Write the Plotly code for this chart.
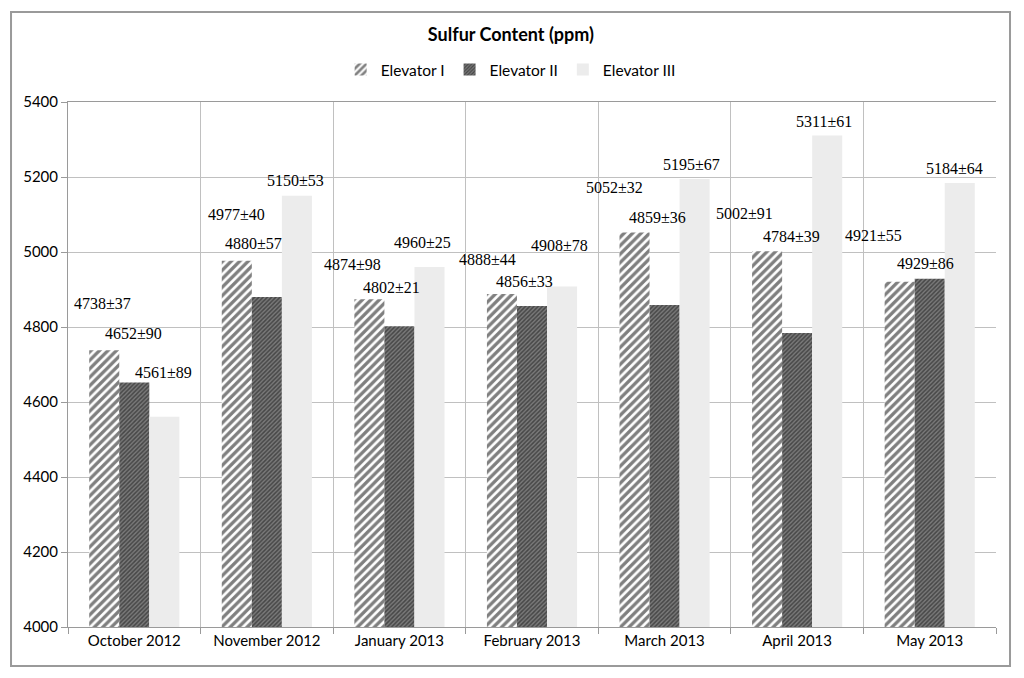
import plotly.graph_objects as go

# Data
months = ["October 2012", "November 2012", "January 2013", "February 2013",
          "March 2013", "April 2013", "May 2013"]
elev1 = [4738, 4977, 4874, 4888, 5052, 5002, 4921]
elev2 = [4652, 4880, 4802, 4856, 4859, 4784, 4929]
elev3 = [4561, 5150, 4960, 4908, 5195, 5311, 5184]
err1 = [37, 40, 98, 44, 32, 91, 55]
err2 = [90, 57, 21, 33, 36, 39, 86]
err3 = [89, 53, 25, 78, 67, 61, 64]

names = ["Elevator I", "Elevator II", "Elevator III"]

# label placement (pixel offsets from top centre of each bar)
lab_dx = [[-2, 0, -17, -15, -20, -23, -26],
          [-1, -13, -8, -8, -7, -6, -4],
          [-1, -1, -7, -3, -3, -3, -5]]
lab_dy = [[47, 46, 35, 35, 45, 38, 46],
          [49, 54, 39, 25, 87, 97, 15],
          [44, 15, 25, 41, 14, 14, 15]]
bar_shift = [-30, 0, 30]

patterns = [
    dict(shape="/", fgcolor="#000000", bgcolor="#ffffff", size=6, solidity=0.55),
    dict(shape="/", fgcolor="#111111", bgcolor="#7a7a7a", size=3, solidity=0.5),
    dict(shape=".", fgcolor="#a0a0a0", bgcolor="#ffffff", size=2, solidity=0.45),
]

fig = go.Figure()
values = [elev1, elev2, elev3]
errors = [err1, err2, err3]
for k in range(3):
    fig.add_trace(go.Bar(
        x=months, y=values[k], name=names[k],
        marker=dict(color=patterns[k]["bgcolor"], line=dict(width=0),
                    pattern=patterns[k]),
    ))

for k in range(3):
    for i, m in enumerate(months):
        fig.add_annotation(
            x=m, y=values[k][i], xref="x", yref="y",
            text=f"{values[k][i]}±{errors[k][i]}",
            showarrow=False,
            xshift=bar_shift[k] + lab_dx[k][i], yshift=lab_dy[k][i],
            font=dict(family="Liberation Serif", size=16, color="#000000"),
        )

# outer chart border
fig.add_shape(type="rect", xref="paper", yref="paper",
              x0=-0.0614, x1=1.0151, y0=-0.0743, y1=1.1714,
              line=dict(color="#9a9a9a", width=2), layer="below")

fig.update_layout(
    width=1016, height=670,
    margin=dict(l=60, r=28, t=94, b=51),
    paper_bgcolor="white", plot_bgcolor="white",
    font=dict(family="Lato", size=15, color="#000000"),
    title=dict(text="<b>Sulfur Content (ppm)</b>", x=0.495, xanchor="center",
               y=0.9597, yanchor="middle", font=dict(size=18, family="Lato")),
    barmode="group", bargap=0.32, bargroupgap=0,
    legend=dict(orientation="h", x=0.477, xanchor="center", y=1.061,
                yanchor="middle", font=dict(size=15.5), traceorder="normal",
                itemwidth=30),
    showlegend=True,
)
fig.update_xaxes(
    type="category", tickson="boundaries", ticks="outside", ticklen=6,
    tickcolor="#9a9a9a", showgrid=True, gridcolor="#c0c0c0", gridwidth=1,
    showline=True, linecolor="#9a9a9a", linewidth=1, mirror=True,
)
fig.update_yaxes(
    range=[4000, 5400], dtick=200, ticks="outside", ticklen=6,
    tickcolor="#9a9a9a", showgrid=True, gridcolor="#c0c0c0", gridwidth=1,
    showline=True, linecolor="#9a9a9a", linewidth=1, zeroline=False,
)

fig.write_html("out.html")
